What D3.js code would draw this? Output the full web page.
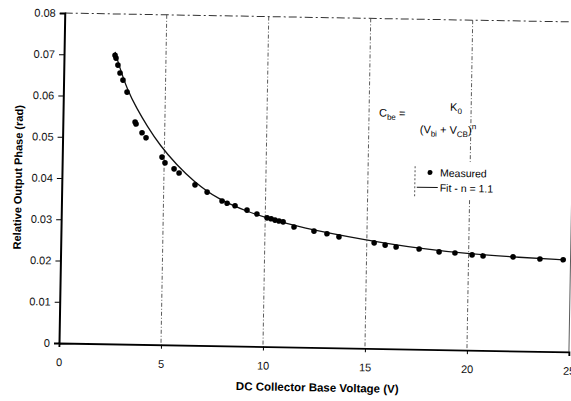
<!DOCTYPE html>
<html>
<head>
<meta charset="utf-8">
<script src="https://cdn.jsdelivr.net/npm/d3@7"></script>
<style>
  body { margin: 0; background: #fff; }
  svg { display: block; font-family: "Liberation Sans", Arial, sans-serif; }
  .tick text { font-size: 11px; fill: #111; }
</style>
</head>
<body>
<script>
// measured points
let measuredV = [2.50, 2.55, 2.65, 2.76, 2.91, 3.12, 3.54, 3.59, 3.89, 4.09,
    4.89, 5.04, 5.49, 5.74, 6.53, 7.13, 7.87, 8.12, 8.51, 9.10,
    9.59, 10.09, 10.29, 10.48, 10.68, 10.88, 11.42, 12.40, 13.04, 13.63,
    15.36, 15.90, 16.44, 17.57, 18.55, 19.33, 20.17, 20.71, 22.18, 23.50, 24.64];
let measuredPhase = [0.0700, 0.0693, 0.0676, 0.0657, 0.0640, 0.0611, 0.0539, 0.0534, 0.0513, 0.0501,
    0.0455, 0.0441, 0.0427, 0.0417, 0.0389, 0.0372, 0.0351, 0.0346, 0.0340, 0.0330,
    0.0321, 0.0312, 0.0310, 0.0307, 0.0305, 0.0303, 0.0291, 0.0282, 0.0276, 0.0269,
    0.0256, 0.0251, 0.0247, 0.0243, 0.0237, 0.0235, 0.0231, 0.0229, 0.0228, 0.0224, 0.0223];

// fit curve
let fitV = [2.50, 2.75, 3.12, 3.62, 4.13, 4.78, 5.63, 6.43, 7.62, 9.25,
    10.09, 11.72, 15.01, 17.62, 20.07, 22.52, 24.64];
let fitPhase = [0.0708, 0.0669, 0.0618, 0.0571, 0.0530, 0.0483, 0.0436, 0.0399, 0.0356, 0.0324,
    0.0312, 0.0290, 0.0262, 0.0244, 0.0233, 0.0227, 0.0223];

let xTicks = [0, 5, 10, 15, 20, 25];
let yTicks = [0, 0.01, 0.02, 0.03, 0.04, 0.05, 0.06, 0.07, 0.08];
let gridV = [5, 10, 15, 20, 25];

let width = 571, height = 401;

let svg = d3.select('body').append('svg')
    .attr('width', width)
    .attr('height', height);

let x = d3.scaleLinear().domain([0, 25]).range([59, 569]);
let y = d3.scaleLinear().domain([0, 0.08]).range([343, 13]);

// the scan is tilted slightly clockwise
let g = svg.append('g')
    .attr('transform', `rotate(1, ${x(0)}, ${y(0)})`);

// vertical dash-dot grid lines
g.selectAll('.grid-v')
    .data(gridV)
    .enter().append('line')
    .attr('class', 'grid-v')
    .attr('x1', d => x(d)).attr('x2', d => x(d))
    .attr('y1', y(0.08)).attr('y2', y(0))
    .attr('stroke', '#333')
    .attr('stroke-width', 0.8)
    .attr('stroke-dasharray', d => d === 25 ? null : '4,2,1,2');

// top border
g.append('line')
    .attr('x1', x(0)).attr('x2', x(25))
    .attr('y1', y(0.08)).attr('y2', y(0.08))
    .attr('stroke', '#333')
    .attr('stroke-width', 1)
    .attr('stroke-dasharray', '8,3,2,3');

// axes
let xAxis = d3.axisBottom(x).tickValues(xTicks).tickSize(4).tickFormat(d3.format('d'));
let yAxis = d3.axisLeft(y).tickValues(yTicks).tickSize(5)
    .tickFormat(d => d === 0 ? '0' : d3.format('.2f')(d));

let gx = g.append('g')
    .attr('transform', `translate(0, ${y(0)})`)
    .call(xAxis);
gx.select('.domain').attr('stroke-width', 1.8);
gx.selectAll('.tick text').attr('dy', '1.45em');

let gy = g.append('g')
    .attr('transform', `translate(${x(0)}, 0)`)
    .call(yAxis);
gy.select('.domain').attr('stroke-width', 2);
gy.selectAll('.tick text').attr('x', -9);

// fit line
let line = d3.line()
    .x((d, i) => x(fitV[i]))
    .y((d, i) => y(fitPhase[i]))
    .curve(d3.curveBasis);

g.append('path')
    .datum(fitV)
    .attr('d', line)
    .attr('fill', 'none')
    .attr('stroke', '#111')
    .attr('stroke-width', 1.3);

// measured points
g.selectAll('.pt')
    .data(measuredV)
    .enter().append('circle')
    .attr('class', 'pt')
    .attr('cx', d => x(d))
    .attr('cy', (d, i) => y(measuredPhase[i]))
    .attr('r', 2.8)
    .attr('fill', '#000');

// axis titles
g.append('text')
    .attr('transform', `translate(19, 178) rotate(-90)`)
    .attr('text-anchor', 'middle')
    .style('font-size', '11px')
    .style('font-weight', 'bold')
    .text('Relative Output Phase (rad)');

g.append('text')
    .attr('x', 318).attr('y', 387)
    .attr('text-anchor', 'middle')
    .style('font-size', '11.5px')
    .style('font-weight', 'bold')
    .text('DC Collector Base Voltage (V)');

// equation
let eq = g.append('g').style('font-size', '11px');
let t1 = eq.append('text').attr('x', 375).attr('y', 111);
t1.append('tspan').text('C');
t1.append('tspan').attr('dy', 3).style('font-size', '8px').text('be');
t1.append('tspan').attr('dy', -3).text(' =');
let t2 = eq.append('text').attr('x', 446).attr('y', 104);
t2.append('tspan').text('K');
t2.append('tspan').attr('dy', 3).style('font-size', '8px').text('0');
let t3 = eq.append('text').attr('x', 416).attr('y', 127);
t3.append('tspan').text('(V');
t3.append('tspan').attr('dy', 3).style('font-size', '8px').text('bi');
t3.append('tspan').attr('dy', -3).text(' + V');
t3.append('tspan').attr('dy', 3).style('font-size', '8px').text('CB');
t3.append('tspan').attr('dy', -3).text(')');
t3.append('tspan').attr('dy', -5).style('font-size', '8px').text('n');

// legend, with a white box hiding the grid behind it
let lg = g.append('g');
lg.append('rect')
    .attr('x', 412).attr('y', 155)
    .attr('width', 94).attr('height', 37)
    .attr('fill', '#fff');
lg.append('line')
    .attr('x1', 412).attr('x2', 412)
    .attr('y1', 160).attr('y2', 192)
    .attr('stroke', '#555')
    .attr('stroke-dasharray', '2,2');
lg.append('circle').attr('cx', 427).attr('cy', 166).attr('r', 2.5).attr('fill', '#000');
lg.append('text').attr('x', 437).attr('y', 170)
    .style('font-size', '10.5px').text('Measured');
lg.append('line')
    .attr('x1', 414).attr('x2', 435)
    .attr('y1', 181).attr('y2', 181)
    .attr('stroke', '#111').attr('stroke-width', 1);
lg.append('text').attr('x', 437).attr('y', 185)
    .style('font-size', '10.5px').text('Fit - n = 1.1');
</script>
</body>
</html>
